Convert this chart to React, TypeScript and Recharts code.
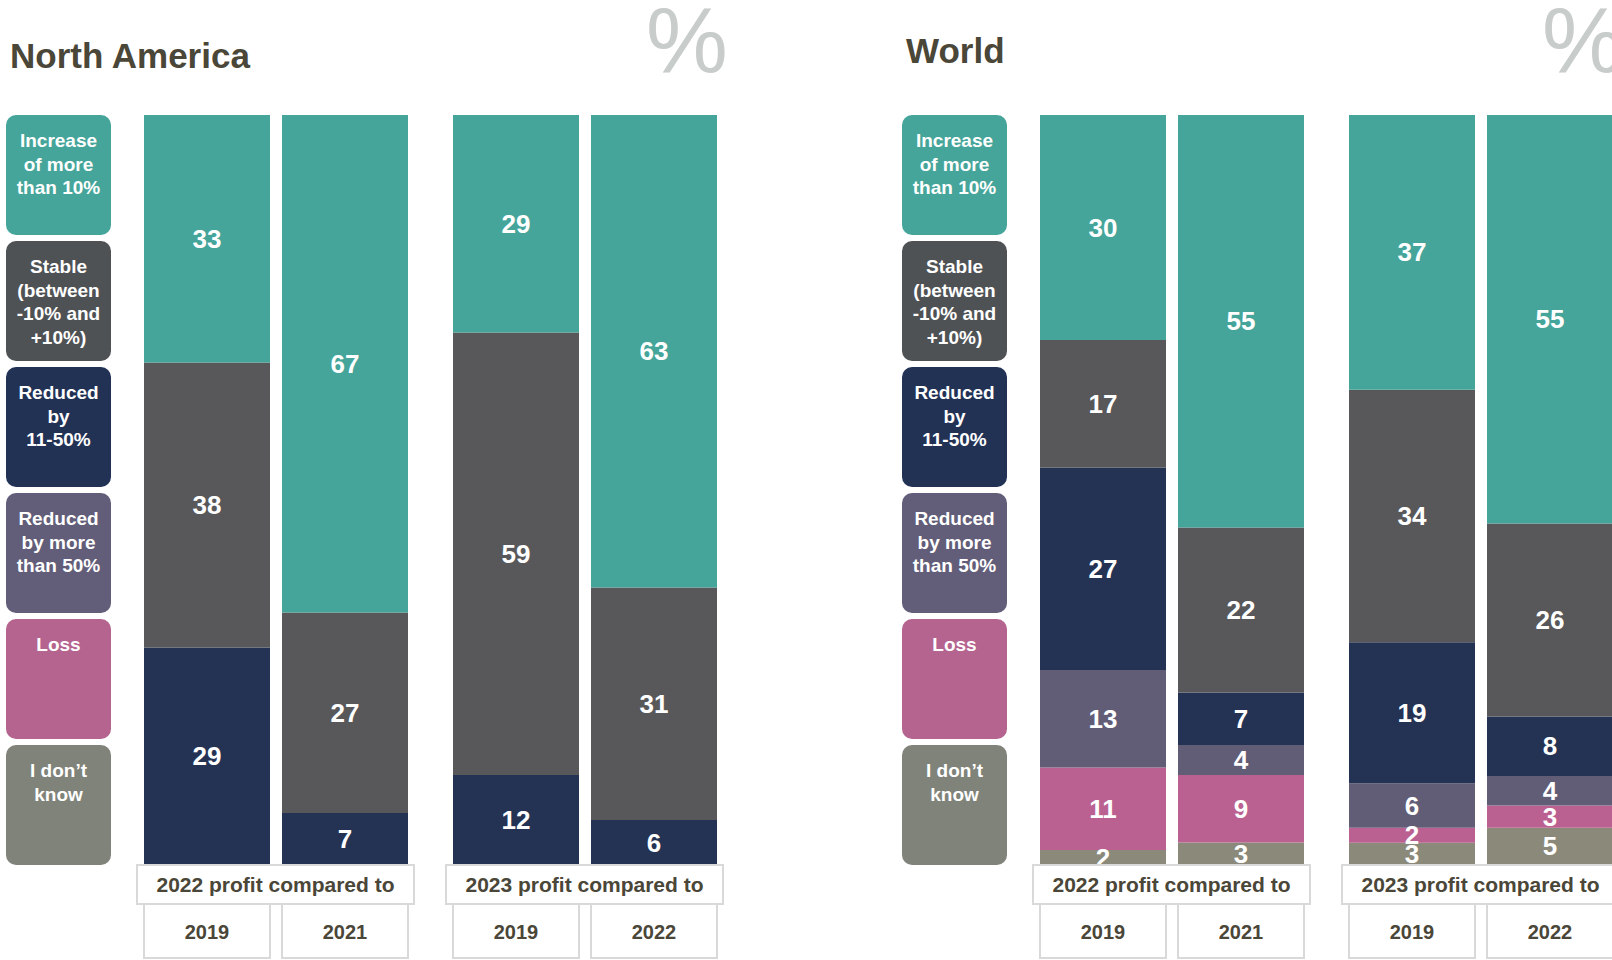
import React from 'react';
import { BarChart, Bar, XAxis, YAxis, LabelList } from 'recharts';

// columns: 2022 vs 2019, 2022 vs 2021, 2023 vs 2019, 2023 vs 2022
const years = ['2019', '2021', '2019', '2022'];
const groupTitles = ['2022 profit compared to', '2023 profit compared to'];

const naIncrease = [33, 67, 29, 63];
const naStable = [38, 27, 59, 31];
const naReduced11 = [29, 7, 12, 6];
const naReduced50 = [0, 0, 0, 0];
const naLoss = [0, 0, 0, 0];
const naDontKnow = [0, 0, 0, 0];

const worldIncrease = [30, 55, 37, 55];
const worldStable = [17, 22, 34, 26];
const worldReduced11 = [27, 7, 19, 8];
const worldReduced50 = [13, 4, 6, 4];
const worldLoss = [11, 9, 2, 3];
const worldDontKnow = [2, 3, 3, 5];

const legendLines = [
  ['Increase', 'of more', 'than 10%'],
  ['Stable', '(between', '-10% and', '+10%)'],
  ['Reduced', 'by', '11-50%'],
  ['Reduced', 'by more', 'than 50%'],
  ['Loss'],
  ["I don\u2019t", 'know'],
];

const series = [
  { key: 'dk', color: '#8b8a7a' },
  { key: 'loss', color: '#bb6191' },
  { key: 'red50', color: '#625d77' },
  { key: 'red11', color: '#243354' },
  { key: 'stable', color: '#58585a' },
  { key: 'inc', color: '#45a59a' },
];
const legendColors = ['#45a59a', '#4f5255', '#223255', '#625d78', '#b5648f', '#80837a'];

const TXT = '#4a4638';
const FONT = "'Liberation Sans', Arial, sans-serif";
const PLOT_H = 750;
const CHART_H = 845;
const PAIR_W = 276;

const buildRows = (idx: number[], inc: number[], stable: number[], red11: number[], red50: number[], loss: number[], dk: number[]) =>
  idx.map((i) => ({
    year: years[i],
    inc: inc[i],
    stable: stable[i],
    red11: red11[i],
    red50: red50[i],
    loss: loss[i],
    dk: dk[i],
  }));

const YearTick = (props: any) => {
  const { x, payload } = props;
  return (
    <g>
      <rect x={x - 63} y={PLOT_H + 39} width={126} height={54} fill="#fff" stroke="#d9d9d9" strokeWidth={2} />
      <text x={x} y={PLOT_H + 74} textAnchor="middle" fontSize={20} fontWeight="bold" fill={TXT}>
        {payload.value}
      </text>
    </g>
  );
};

const makeLabel = (rows: any[], key: string) => (p: any) => {
  const v = rows[p.index]?.[key];
  if (!v) return null;
  return (
    <text
      x={Number(p.x) + Number(p.width) / 2}
      y={Number(p.y) + Number(p.height) / 2}
      dy={9}
      textAnchor="middle"
      fill="#fff"
      fontSize={26}
      fontWeight="bold"
    >
      {v}
    </text>
  );
};

const Pair = ({ rows, left }: { rows: any[]; left: number }) => (
  <div style={{ position: 'absolute', left, top: 115 }}>
    <BarChart
      width={PAIR_W}
      height={CHART_H}
      data={rows}
      stackOffset="expand"
      barSize={126}
      margin={{ top: 0, right: 0, bottom: 0, left: 0 }}
    >
      <XAxis dataKey="year" height={CHART_H - PLOT_H} axisLine={false} tickLine={false} tick={<YearTick />} interval={0} />
      <YAxis hide domain={[0, 1]} />
      {series.map((s) => (
        <Bar key={s.key} dataKey={s.key} stackId="a" fill={s.color} isAnimationActive={false}>
          <LabelList dataKey={s.key} content={makeLabel(rows, s.key)} />
        </Bar>
      ))}
    </BarChart>
  </div>
);

const Legend = ({ left }: { left: number }) => (
  <>
    {legendLines.map((lines, i) => (
      <div
        key={i}
        style={{
          position: 'absolute',
          left,
          top: 115 + i * 126,
          width: 105,
          height: 120,
          borderRadius: 10,
          background: legendColors[i],
          color: '#fff',
          fontWeight: 'bold',
          fontSize: 19,
          lineHeight: '23.5px',
          textAlign: 'center',
          paddingTop: 14,
          boxSizing: 'border-box',
        }}
      >
        {lines.map((l, j) => (
          <div key={j}>{l}</div>
        ))}
      </div>
    ))}
  </>
);

const regions = [
  { title: 'North America', offset: 0, titleY: 68 },
  { title: 'World', offset: 896, titleY: 63 },
];
const pairLefts = [138, 447];

export default function App() {
  const naRows1 = buildRows([0, 1], naIncrease, naStable, naReduced11, naReduced50, naLoss, naDontKnow);
  const naRows2 = buildRows([2, 3], naIncrease, naStable, naReduced11, naReduced50, naLoss, naDontKnow);
  const wRows1 = buildRows([0, 1], worldIncrease, worldStable, worldReduced11, worldReduced50, worldLoss, worldDontKnow);
  const wRows2 = buildRows([2, 3], worldIncrease, worldStable, worldReduced11, worldReduced50, worldLoss, worldDontKnow);

  return (
    <div
      style={{
        position: 'absolute',
        left: 0,
        top: 0,
        width: 1612,
        height: 960,
        overflow: 'hidden',
        background: '#fff',
        fontFamily: FONT,
      }}
    >
      <Legend left={6} />
      <Legend left={902} />
      <Pair rows={naRows1} left={pairLefts[0]} />
      <Pair rows={naRows2} left={pairLefts[1]} />
      <Pair rows={wRows1} left={pairLefts[0] + 896} />
      <Pair rows={wRows2} left={pairLefts[1] + 896} />
      <svg width={1612} height={960} style={{ position: 'absolute', left: 0, top: 0, pointerEvents: 'none' }}>
        {regions.map((r) => (
          <g key={r.title}>
            <text x={10 + r.offset} y={r.titleY} fontSize={35} fontWeight="bold" fill={TXT} fontFamily={FONT}>
              {r.title}
            </text>
            <text x={646 + r.offset} y={72} fontSize={92} fill="#c8cccb" fontFamily={FONT}>
              %
            </text>
            {pairLefts.map((pl, k) => (
              <g key={k}>
                <rect x={pl - 1 + r.offset} y={865} width={277} height={39} fill="#fff" stroke="#d9d9d9" strokeWidth={2} />
                <text
                  x={pl - 1 + r.offset + 138.5}
                  y={892}
                  textAnchor="middle"
                  fontSize={21}
                  fontWeight="bold"
                  fill={TXT}
                  fontFamily={FONT}
                >
                  {groupTitles[k]}
                </text>
              </g>
            ))}
          </g>
        ))}
      </svg>
    </div>
  );
}
